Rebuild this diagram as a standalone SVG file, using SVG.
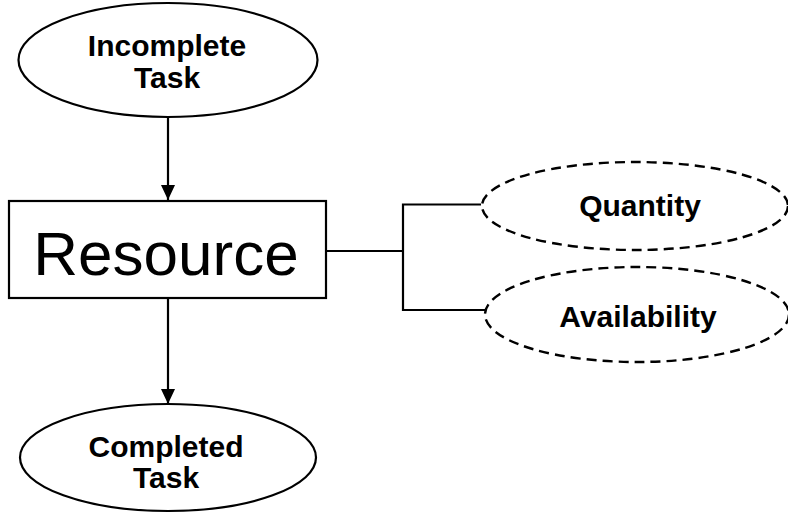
<svg xmlns="http://www.w3.org/2000/svg" width="788" height="513" viewBox="0 0 788 513">
  <style>
    .shape { fill: #ffffff; stroke: #000000; stroke-width: 2.2; }
    .dashed { fill: #ffffff; stroke: #000000; stroke-width: 2.4; stroke-dasharray: 10 6; }
    .lbl { font-family: "Liberation Sans", Arial, sans-serif; font-weight: bold; font-size: 30px; fill: #000000; text-anchor: middle; }
    .big { font-family: "Liberation Sans", Arial, sans-serif; font-size: 62px; fill: #000000; text-anchor: middle; }
    .conn { fill: none; stroke: #000000; stroke-width: 2.2; }
  </style>
  <defs>
    <marker id="arrow" markerUnits="userSpaceOnUse" markerWidth="16" markerHeight="16" refX="15" refY="7" orient="auto" viewBox="0 0 16 16">
      <path d="M0,0 L15,7 L0,14 Z" fill="#000000"/>
    </marker>
  </defs>
  <rect width="788" height="513" fill="#ffffff"/>
  <g id="connectors">
    <line class="conn" x1="168" y1="117" x2="168" y2="200" marker-end="url(#arrow)"/>
    <line class="conn" x1="168" y1="298" x2="168" y2="404" marker-end="url(#arrow)"/>
    <polyline class="conn" points="326,251 403,251"/>
    <polyline class="conn" points="481,204.5 403,204.5 403,310 485,310"/>
  </g>
  <g id="incomplete">
    <ellipse class="shape" cx="168" cy="60" rx="149.5" ry="57"/>
    <text class="lbl" x="167" y="56">Incomplete</text>
    <text class="lbl" x="167" y="88">Task</text>
  </g>
  <g id="resource">
    <rect class="shape" x="9" y="201" width="317" height="97"/>
    <text class="big" x="166" y="275">Resource</text>
  </g>
  <g id="completed">
    <ellipse class="shape" cx="168" cy="457.5" rx="148" ry="53.5"/>
    <text class="lbl" x="166" y="457">Completed</text>
    <text class="lbl" x="166" y="488">Task</text>
  </g>
  <g id="quantity">
    <ellipse class="dashed" cx="635" cy="206" rx="153" ry="44"/>
    <text class="lbl" x="640" y="216">Quantity</text>
  </g>
  <g id="availability">
    <ellipse class="dashed" cx="637" cy="314.5" rx="152" ry="47.5"/>
    <text class="lbl" x="638" y="327">Availability</text>
  </g>
</svg>
